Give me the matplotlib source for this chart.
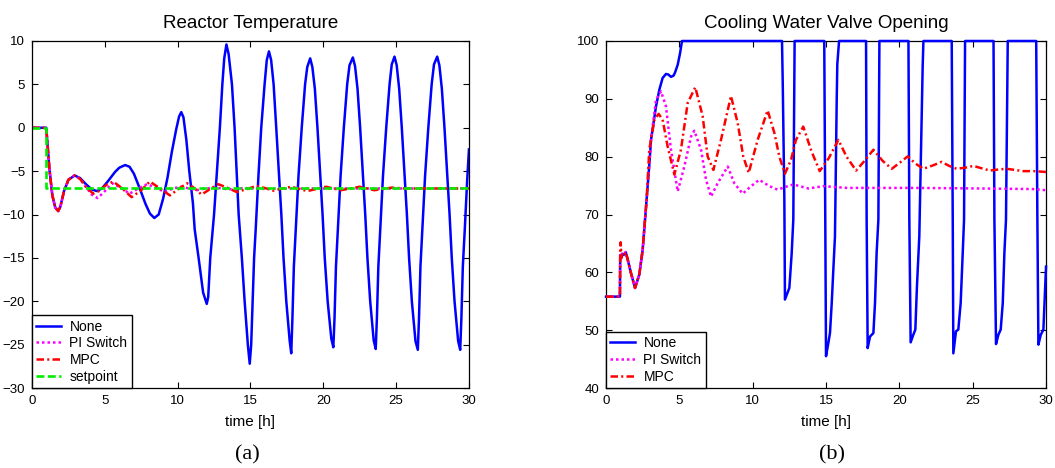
import matplotlib
matplotlib.use("Agg")
import matplotlib.pyplot as plt

# ---------------- data: Reactor temperature ----------------
t_none_T = [0, 0.98, 1.05, 1.2, 1.4, 1.6, 1.8, 1.95, 2.2, 2.5, 2.93, 3.3, 3.7, 4.1, 4.45, 4.8, 5.2, 5.7,
            6.0, 6.4, 6.7, 7.0, 7.4, 7.8, 8.1, 8.4, 8.7, 9.0, 9.3, 9.6, 9.9, 10.1, 10.25, 10.4, 10.6,
            10.8, 11.05, 11.17, 11.44, 11.75, 12.0, 12.1, 12.24, 12.5, 12.7, 12.9, 13.07, 13.2, 13.35,
            13.5, 13.73, 13.91, 14.19, 14.41, 14.6, 14.82, 14.95, 15.05, 15.15, 15.25, 15.36, 15.55,
            15.74, 15.97, 16.12, 16.27, 16.42, 16.59, 16.77, 17.12, 17.27, 17.46, 17.69, 17.8,
            17.88, 17.98, 18.12, 18.3, 18.52, 18.75, 18.9, 19.1, 19.25, 19.42, 19.6, 19.95, 20.1,
            20.3, 20.55, 20.69, 20.77, 20.87, 21.01, 21.19, 21.41, 21.64, 21.8, 22.03, 22.18, 22.35,
            22.53, 22.88, 23.03, 23.22, 23.46, 23.6, 23.68, 23.78, 23.92, 24.1, 24.32, 24.55, 24.7,
            24.89, 25.04, 25.21, 25.39, 25.74, 25.89, 26.08, 26.33, 26.49, 26.57, 26.67, 26.81,
            26.99, 27.21, 27.44, 27.6, 27.82, 27.97, 28.14, 28.32, 28.67, 28.82, 29.01, 29.26,
            29.4, 29.48, 29.58, 29.72, 29.88, 30.0]
y_none_T = [0, 0, -1.5, -4.8, -7.8, -9.2, -9.6, -9.1, -7.3, -6.0, -5.5, -5.8, -6.5, -7.1, -7.3, -7.0,
            -6.2, -5.1, -4.6, -4.3, -4.5, -5.3, -7.0, -8.8, -9.9, -10.4, -10.0, -8.2, -5.8, -2.8,
            -0.2, 1.3, 1.8, 1.2, -1.4, -5.0, -8.7, -11.7, -15, -19, -20.3, -19.5, -15, -10, -5, 0,
            5, 8, 9.6, 8.5, 5, 0, -10, -15, -20, -25, -27.2, -25, -20, -15, -11.7, -5.5, 0, 5, 7.8,
            8.8, 7.8, 5, 0, -10, -15, -20, -24.5, -26,
            -22, -16, -11.5, -5.5, 0, 5, 7, 8.0, 7.0, 4.5, 0, -10, -15, -20, -24.3, -25.3,
            -22, -16, -11.5, -5.5, 0, 5, 7.2, 8.1, 7.1, 4.5, 0, -10, -15, -20, -24.5, -25.5,
            -22, -16, -11.5, -5.5, 0, 5, 7.3, 8.2, 7.2, 4.5, 0, -10, -15, -20, -24.6, -25.6,
            -22, -16, -11.5, -5.5, 0, 5, 7.3, 8.2, 7.2, 4.5, 0, -10, -15, -20, -24.6, -25.6,
            -22, -16, -11.5, -6.0, -2.5]

t_pi_T = [0, 0.98, 1.05, 1.2, 1.4, 1.6, 1.8, 1.95, 2.2, 2.5, 2.93, 3.3, 3.7, 4.1, 4.5, 4.9, 5.5,
          6.1, 6.7, 7.3, 7.9, 8.5, 9.1, 9.7, 10.2, 10.8, 11.3, 11.9, 12.6, 13.5, 14.5, 16, 18, 30]
y_pi_T = [0, 0, -1.5, -4.8, -7.8, -9.2, -9.6, -9.1, -7.3, -6.0, -5.5, -5.9, -6.8, -7.7, -8.1, -7.5,
          -6.4, -6.9, -7.6, -7.0, -6.5, -6.9, -7.4, -7.0, -6.8, -7.0, -7.2, -7.0, -6.9, -7.1,
          -6.95, -7.05, -7.0, -7.0]

t_mpc_T = [0, 0.98, 1.05, 1.2, 1.4, 1.6, 1.8, 1.95, 2.2, 2.5, 2.93, 3.3, 3.7, 4.2, 4.6, 5.1, 5.58,
           6.2, 6.84, 7.5, 8.09, 8.8, 9.47, 10.1, 10.65, 11.1, 11.64, 12.2, 12.78, 13.4, 14.04,
           14.7, 15.41, 16.0, 16.56, 17.2, 17.8, 18.9, 20.2, 21.2, 22.5, 23.5, 24.7, 25.6, 30]
y_mpc_T = [0, 0, -1.5, -4.8, -7.8, -9.2, -9.6, -9.1, -7.3, -6.0, -5.5, -5.9, -6.8, -7.6, -7.3,
           -6.6, -6.2, -7.0, -8.0, -7.2, -6.2, -7.0, -7.8, -7.0, -6.4, -6.9, -7.7, -7.1, -6.5,
           -6.9, -7.4, -7.1, -6.7, -6.95, -7.25, -7.0, -6.8, -7.3, -6.8, -7.2, -6.8, -7.2, -6.9,
           -7.0, -7.0]

t_setpoint = [0, 0.95, 0.95, 30]
y_setpoint = [0, 0, -7, -7]

# ---------------- data: Cooling water valve opening ----------------
t_none_V = [0, 0.95, 0.97, 1.05, 1.1, 1.2, 1.35, 1.5, 1.7, 1.98, 2.27, 2.5, 2.77, 2.95, 3.07, 3.41,
            3.64, 3.86, 4.09, 4.25, 4.43, 4.6, 4.7, 4.89, 5.05, 5.18,
            12.0, 12.05, 12.16, 12.2, 12.5, 12.66, 12.77, 12.86,
            14.88, 14.95, 15.0, 15.16, 15.27, 15.39, 15.5, 15.61, 15.73, 15.77, 15.89,
            17.73, 17.77, 17.84, 18.0, 18.23, 18.34, 18.45, 18.57, 18.64,
            20.62, 20.68, 20.77, 20.95, 21.09, 21.2, 21.36, 21.59, 21.64,
            23.57, 23.64, 23.68, 23.86, 24.02, 24.18, 24.32, 24.41, 24.48,
            26.42, 26.48, 26.59, 26.75, 26.91, 27.05, 27.16, 27.27, 27.39,
            29.33, 29.41, 29.48, 29.64, 29.82, 30.0]
y_none_V = [55.8, 55.8, 63.0, 62.5, 63.2, 63.0, 63.5, 62.0, 59.9, 57.3, 59.6, 63.9, 72.6, 78.5, 82.9,
            88.7, 91.6, 93.6, 94.3, 94.2, 93.8, 94.0, 94.5, 95.9, 97.9, 100,
            100, 92.7, 72.6, 55.3, 57.3, 63.3, 69.1, 100,
            100, 69.1, 45.5, 47.8, 49.5, 54.7, 60.5, 66.2, 89.9, 96, 100,
            100, 69.1, 46.9, 48.9, 49.5, 54.7, 63.3, 69.1, 100,
            100, 69.1, 47.9, 49.2, 50.1, 57.6, 66.2, 95.6, 100,
            100, 69.1, 46.0, 49.8, 50.1, 54.7, 63.3, 69.1, 100,
            100, 69.1, 47.6, 49.2, 50.1, 54.7, 63.3, 69.1, 100,
            100, 69.1, 47.5, 49.2, 50.1, 61.0]

t_pi_V = [0, 0.95, 0.97, 1.05, 1.1, 1.2, 1.35, 1.5, 1.7, 1.98, 2.27, 2.5, 2.77, 2.95, 3.07, 3.41,
          3.75, 4.09, 4.43, 4.89, 5.34, 5.8, 6.02, 6.48, 6.82, 7.16, 7.61, 8.3, 8.75, 9.32, 9.89,
          10.45, 11.14, 11.7, 12.39, 12.77, 13.8, 14.82, 16.41, 21.0, 25.5, 29.1, 30.0]
y_pi_V = [55.8, 55.8, 63.0, 62.5, 63.2, 63.0, 63.5, 62.0, 59.9, 57.3, 59.6, 63.9, 72.6, 78.5, 82.9,
          89.8, 91.3, 88.7, 81.2, 74.0, 78.3, 83.5, 84.5, 81.2, 76.0, 73.1, 75.4, 78.3, 75.4, 73.6,
          74.9, 76.0, 74.9, 74.3, 74.9, 75.2, 74.5, 74.9, 74.6, 74.6, 74.5, 74.4, 74.2]

t_mpc_V = [0, 0.95, 0.97, 1.0, 1.05, 1.1, 1.2, 1.35, 1.5, 1.7, 1.98, 2.27, 2.5, 2.77, 2.95, 3.3,
           3.59, 3.86, 4.2, 4.66, 5.11, 5.57, 6.09, 6.59, 6.93, 7.32, 7.84, 8.52, 8.98, 9.36, 9.73,
           10.34, 11.02, 11.48, 11.82, 12.2, 12.62, 12.95, 13.45, 14.0, 14.57, 15.2, 15.84, 16.4,
           17.05, 17.6, 18.23, 18.85, 19.48, 20.0, 20.57, 21.1, 21.64, 22.3, 22.88, 23.4, 23.91,
           24.5, 25.05, 25.6, 26.18, 26.8, 27.32, 27.9, 28.45, 29.2, 30.0]
y_mpc_V = [55.8, 55.8, 63.0, 65.2, 62.5, 63.2, 63.0, 63.5, 62.0, 59.9, 57.3, 59.6, 63.9, 72.6, 81.2,
           86.4, 87.4, 86.4, 81.8, 76.9, 81.2, 89.3, 92.0, 87.0, 80.05, 77.7, 82.9, 90.5, 85.8,
           80.0, 77.2, 82.9, 88.0, 84.1, 80.0, 77.05, 79.5, 82.9, 85.2, 81.0, 77.5, 79.8, 82.9,
           80.0, 77.6, 79.2, 81.2, 79.3, 77.9, 78.9, 80.05, 78.8, 77.9, 78.5, 79.1, 78.4, 77.9,
           78.1, 78.4, 78.0, 77.6, 77.8, 77.9, 77.7, 77.5, 77.5, 77.35]

x_ticks = [0, 5, 10, 15, 20, 25, 30]
yticks_T = [-30, -25, -20, -15, -10, -5, 0, 5, 10]
yticks_V = [40, 50, 60, 70, 80, 90, 100]

# ---------------- styling ----------------
plt.rcParams['font.family'] = ['Liberation Sans', 'DejaVu Sans']
BLUE, MAG, RED, GRN = '#0000ff', '#ff00ff', '#ff0000', '#00ee00'
LW = 1.8

fig = plt.figure(figsize=(10.55, 4.68), dpi=100)
ax1 = fig.add_axes([0.0303, 0.1709, 0.4142, 0.7415])
ax2 = fig.add_axes([0.5744, 0.1709, 0.4171, 0.7415])


def style(ax, yticks, ylim, title):
    ax.set_xlim(0, 30)
    ax.set_ylim(*ylim)
    ax.set_xticks(x_ticks)
    ax.set_yticks(yticks)
    ax.tick_params(direction='in', top=True, right=True, length=4, width=0.8,
                   labelsize=9.5, pad=5, colors='black')
    for s in ax.spines.values():
        s.set_linewidth(0.9)
    ax.set_title(title, fontsize=13.5, pad=9)
    ax.set_xlabel('time [h]', fontsize=11, labelpad=6)


ax1.plot(t_none_T, y_none_T, color=BLUE, lw=LW, label='None')
ax1.plot(t_pi_T, y_pi_T, color=MAG, lw=LW, dashes=(1, 1.2), label='PI Switch')
ax1.plot(t_mpc_T, y_mpc_T, color=RED, lw=LW, dashes=(3, 1.3, 0.8, 1.3), label='MPC')
ax1.plot(t_setpoint, y_setpoint, color=GRN, lw=1.9, dashes=(3, 1.3), label='setpoint')
style(ax1, yticks_T, (-30, 10), 'Reactor Temperature')

ax2.plot(t_none_V, y_none_V, color=BLUE, lw=LW, label='None', clip_on=False, zorder=3)
ax2.plot(t_pi_V, y_pi_V, color=MAG, lw=LW, dashes=(1, 1.2), label='PI Switch', zorder=3.1)
ax2.plot(t_mpc_V, y_mpc_V, color=RED, lw=LW, dashes=(3, 1.3, 0.8, 1.3), label='MPC', zorder=3.2)
style(ax2, yticks_V, (40, 100), 'Cooling Water Valve Opening')

for ax in (ax1, ax2):
    leg = ax.legend(loc='lower left', bbox_to_anchor=(0, 0), borderaxespad=0, fontsize=10,
                    fancybox=False, framealpha=1, edgecolor='black', borderpad=0.3,
                    handlelength=1.8, handletextpad=0.6, labelspacing=0.2)
    leg.get_frame().set_linewidth(1.0)
    leg.set_zorder(5)

fig.text(247 / 1055, 1 - 455 / 468, '(a)', family=['Liberation Serif', 'DejaVu Serif'],
         fontsize=16, ha='center', va='center')
fig.text(832 / 1055, 1 - 455 / 468, '(b)', family=['Liberation Serif', 'DejaVu Serif'],
         fontsize=16, ha='center', va='center')

fig.savefig('out.png', dpi=100)
